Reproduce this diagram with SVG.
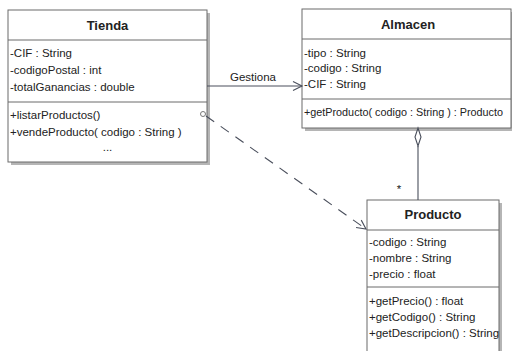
<svg xmlns="http://www.w3.org/2000/svg" width="512" height="351" viewBox="0 0 512 351">
<defs>
<style>
.box{fill:#fff;stroke:#6b6b6b;stroke-width:1}
.shadow{fill:#b5b5b5}
.div{stroke:#6b6b6b;stroke-width:1}
.t{font-family:"Liberation Sans",Arial,sans-serif;font-size:11.5px;fill:#222}
.title{font-family:"Liberation Sans",Arial,sans-serif;font-size:13px;font-weight:bold;fill:#222;text-anchor:middle}
.ln{stroke:#4a4f5c;stroke-width:1.1;fill:none}
</style>
<marker id="open" markerWidth="12" markerHeight="12" refX="10" refY="6" orient="auto" markerUnits="userSpaceOnUse">
<path d="M1,1.5 L10,6 L1,10.5" fill="none" stroke="#4a4f5c" stroke-width="1.1"/>
</marker>
</defs>
<rect width="512" height="351" fill="#fff"/>

<g id="Tienda">
<rect class="shadow" x="11" y="13" width="199" height="152"/>
<rect class="box" x="8" y="10" width="199" height="152"/>
<line class="div" x1="8" y1="40" x2="207" y2="40"/>
<line class="div" x1="8" y1="102" x2="207" y2="102"/>
<text class="title" x="107.5" y="30">Tienda</text>
<text class="t" x="10" y="57">-CIF : String</text>
<text class="t" x="10" y="74">-codigoPostal : int</text>
<text class="t" x="10" y="91">-totalGanancias : double</text>
<text class="t" x="10" y="119">+listarProductos()</text>
<text class="t" x="10" y="136">+vendeProducto( codigo : String )</text>
<text class="t" x="107.5" y="151" text-anchor="middle">...</text>
</g>

<g id="Almacen">
<rect class="shadow" x="305" y="12" width="209" height="119"/>
<rect class="box" x="302" y="9" width="209" height="119"/>
<line class="div" x1="302" y1="39" x2="511" y2="39"/>
<line class="div" x1="302" y1="99" x2="511" y2="99"/>
<text class="title" x="408" y="29">Almacen</text>
<text class="t" x="304" y="57">-tipo : String</text>
<text class="t" x="304" y="72">-codigo : String</text>
<text class="t" x="304" y="88">-CIF : String</text>
<text class="t" x="304" y="116" style="font-size:10.8px">+getProducto( codigo : String ) : Producto</text>
</g>

<g id="Producto">
<rect class="shadow" x="370" y="203" width="132" height="160"/>
<rect class="box" x="367" y="200" width="132" height="160"/>
<line class="div" x1="367" y1="230" x2="499" y2="230"/>
<line class="div" x1="367" y1="287" x2="499" y2="287"/>
<text class="title" x="433" y="219">Producto</text>
<text class="t" x="369" y="246">-codigo : String</text>
<text class="t" x="369" y="262">-nombre : String</text>
<text class="t" x="369" y="278">-precio : float</text>
<text class="t" x="369" y="305">+getPrecio() : float</text>
<text class="t" x="369" y="321">+getCodigo() : String</text>
<text class="t" x="369" y="337">+getDescripcion() : String</text>
</g>

<g id="connectors">
<line class="ln" x1="207" y1="86" x2="302" y2="86" marker-end="url(#open)"/>
<text class="t" x="253" y="81" text-anchor="middle">Gestiona</text>
<circle cx="203" cy="114" r="2.5" fill="#fff" stroke="#777" stroke-width="1"/>
<line class="ln" x1="206" y1="116" x2="366" y2="229" stroke-dasharray="10,8" marker-end="url(#open)"/>
<path class="ln" d="M418,128 L421,137 L418,146 L415,137 Z" fill="#fff"/>
<line class="ln" x1="418" y1="146" x2="418" y2="200"/>
<text class="t" x="399" y="193" text-anchor="middle">*</text>
</g>
</svg>
